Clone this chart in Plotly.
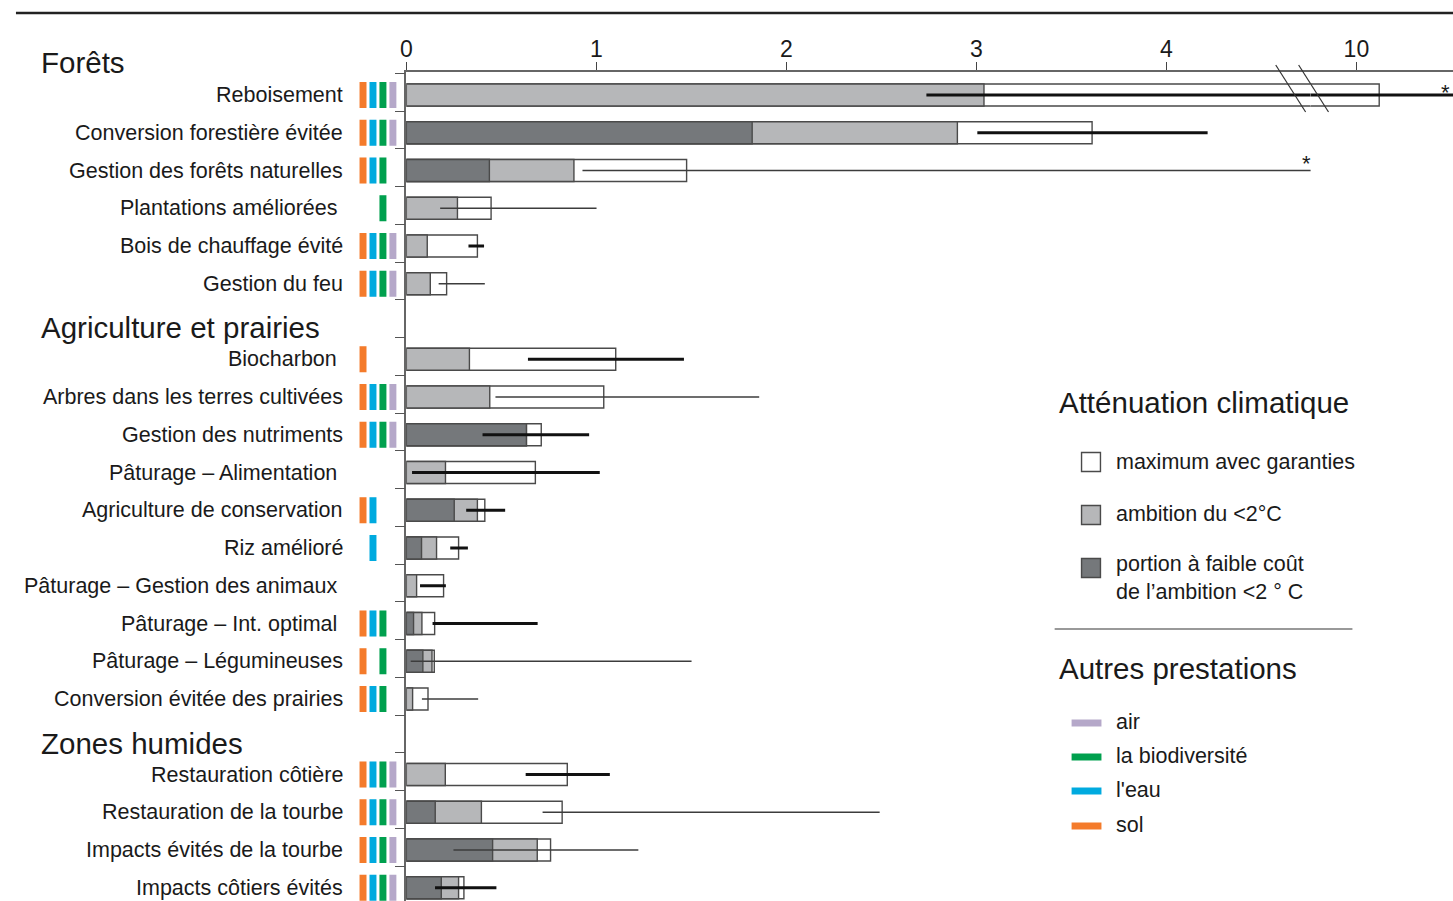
import plotly.graph_objects as go

# ---------------- data ----------------
groups = ["Forêts", "Agriculture et prairies", "Zones humides"]
group_sizes = [6, 10, 4]

pathways = [
    "Reboisement", "Conversion forestière évitée", "Gestion des forêts naturelles",
    "Plantations améliorées\u00a0", "Bois de chauffage évité", "Gestion du feu",
    "Biocharbon\u00a0", "Arbres dans les terres cultivées", "Gestion des nutriments",
    "Pâturage – Alimentation\u00a0", "Agriculture de conservation", "Riz amélioré",
    "Pâturage – Gestion des animaux\u00a0", "Pâturage – Int. optimal\u00a0",
    "Pâturage – Légumineuses", "Conversion évitée des prairies",
    "Restauration côtière", "Restauration de la tourbe",
    "Impacts évités de la tourbe", "Impacts côtiers évités",
]

low_cost = [0, 1.82, 0.437, 0, 0, 0,
            0, 0, 0.632, 0, 0.252, 0.080, 0, 0.038, 0.087, 0,
            0, 0.152, 0.454, 0.184]
ambition = [3.04, 2.90, 0.882, 0.269, 0.110, 0.126,
            0.332, 0.439, 0.632, 0.206, 0.374, 0.159, 0.054, 0.082, 0.135, 0.033,
            0.205, 0.395, 0.689, 0.275]
maximum = [10.12, 3.609, 1.475, 0.446, 0.374, 0.212,
           1.102, 1.039, 0.710, 0.679, 0.413, 0.275, 0.196, 0.149, 0.147, 0.114,
           0.847, 0.820, 0.759, 0.303]
range_low = [2.737, 3.005, 0.927, 0.178, 0.327, 0.170,
             0.640, 0.469, 0.401, 0.030, 0.315, 0.231, 0.072, 0.138, 0.023, 0.082,
             0.628, 0.717, 0.248, 0.151]
range_high = [11.0, 4.217, 4.77, 1.001, 0.409, 0.413,
              1.461, 1.857, 0.962, 1.018, 0.520, 0.324, 0.208, 0.691, 1.501, 0.378,
              1.071, 2.491, 1.221, 0.474]
range_bold = [1, 1, 0, 0, 1, 0,
              1, 0, 1, 1, 1, 1, 1, 1, 0, 0,
              1, 0, 0, 1]
off_scale = [1, 0, 1, 0, 0, 0,
             0, 0, 0, 0, 0, 0, 0, 0, 0, 0,
             0, 0, 0, 0]

# co-benefits
sol = [1, 1, 1, 0, 1, 1, 1, 1, 1, 0, 1, 0, 0, 1, 1, 1, 1, 1, 1, 1]
eau = [1, 1, 1, 0, 1, 1, 0, 1, 1, 0, 1, 1, 0, 1, 0, 1, 1, 1, 1, 1]
biodiv = [1, 1, 1, 1, 1, 1, 0, 1, 1, 0, 0, 0, 0, 1, 1, 1, 1, 1, 1, 1]
air = [1, 1, 0, 0, 1, 1, 0, 1, 1, 0, 0, 0, 0, 0, 0, 0, 1, 1, 1, 1]

x_ticks_left = [0, 1, 2, 3, 4]
x_ticks_right = [10]

# ---------------- layout helpers ----------------
W, H = 1453, 901
TOP, BOTTOM = 72, 0
FONT = "Liberation Sans, Arial, Helvetica, sans-serif"
TXT = "#1a1a1a"

C_DARK = "#75787b"
C_LIGHT = "#b6b7b9"
C_WHITE = "#ffffff"
C_OUT = "#4a4a4a"
C_SOL, C_EAU, C_BIO, C_AIR = "#f47b2b", "#00aadf", "#00a04e", "#b5a8c9"


def px2x(px):
    return px / W


def py2y(py):
    return 1 - (py - TOP) / (H - TOP - BOTTOM)


# row positions (heading rows inserted between groups)
rows = []
head_rows = []
r = 0
for gi, n in enumerate(group_sizes):
    if gi > 0:
        head_rows.append(r)
        r += 1
    for _ in range(n):
        rows.append(r)
        r += 1

fig = go.Figure()

BAR_W = 0.58
for vals, col in [(maximum, C_WHITE), (ambition, C_LIGHT), (low_cost, C_DARK)]:
    xs = [v if v > 0 else None for v in vals]
    for xa in ["x", "x2"]:
        fig.add_trace(go.Bar(
            x=xs, y=rows, orientation="h", base=0, width=BAR_W,
            marker=dict(color=col, line=dict(color=C_OUT, width=1.4)),
            xaxis=xa, yaxis="y", showlegend=False, hoverinfo="skip"))

# range whiskers
for bold, col, lw in [(0, "#3c3c3c", 1.5), (1, "#111111", 2.8)]:
    xs, ys = [], []
    for i in range(len(rows)):
        if range_bold[i] == bold:
            xs += [range_low[i], range_high[i], None]
            ys += [rows[i], rows[i], None]
    for xa in ["x", "x2"]:
        fig.add_trace(go.Scatter(
            x=xs, y=ys, mode="lines", line=dict(color=col, width=lw),
            xaxis=xa, yaxis="y", showlegend=False, hoverinfo="skip"))

# co-benefit strips
STRIP_H = 0.69
for slot, (flags, col) in enumerate([(sol, C_SOL), (eau, C_EAU), (biodiv, C_BIO), (air, C_AIR)]):
    rr = [rows[i] for i in range(len(rows)) if flags[i]]
    fig.add_trace(go.Bar(
        x=[slot] * len(rr), y=[STRIP_H] * len(rr), base=[v - STRIP_H / 2 for v in rr],
        orientation="v", width=0.7, marker=dict(color=col, line=dict(width=0)),
        xaxis="x3", yaxis="y", showlegend=False, hoverinfo="skip"))

annotations = []
# row labels
for i, name in enumerate(pathways):
    annotations.append(dict(
        x=px2x(340), xref="paper", xanchor="right", y=rows[i], yref="y", yanchor="middle",
        text=name, showarrow=False, font=dict(family=FONT, size=21.5, color=TXT)))
# group headings
head_py = [62] + [95 + 37.75 * (h + 0.17) for h in head_rows]
for g, yp in zip(groups, head_py):
    annotations.append(dict(
        x=px2x(33), xref="paper", xanchor="left", y=py2y(yp), yref="paper", yanchor="middle",
        text=g, showarrow=False, font=dict(family=FONT, size=29.5, color=TXT)))
# off-scale asterisks
for i in range(len(rows)):
    if off_scale[i]:
        if range_high[i] > 10:
            annotations.append(dict(x=10.47, xref="x2", y=rows[i], yref="y", yanchor="middle",
                                    yshift=3, text="*", showarrow=False,
                                    font=dict(family=FONT, size=22, color=TXT)))
        else:
            annotations.append(dict(x=range_high[i] - 0.03, xref="x", y=rows[i], yref="y",
                                    yanchor="middle", yshift=7, text="*", showarrow=False,
                                    font=dict(family=FONT, size=22, color=TXT)))

# legend
for label, yp in [("Atténuation climatique", 402), ("Autres prestations", 668)]:
    annotations.append(dict(x=px2x(1055), xref="paper", xanchor="left", y=py2y(yp),
                            yref="paper", yanchor="middle", text=label, showarrow=False,
                            font=dict(family=FONT, size=29.5, color=TXT)))
shapes = []
leg_boxes = [(C_WHITE, 462, 462, "maximum avec garanties"),
             (C_LIGHT, 515, 514, "ambition du <2°C"),
             (C_DARK, 568, 578, "portion à faible coût<br>de l’ambition <2 ° C")]
for col, yc, ytxt, label in leg_boxes:
    shapes.append(dict(type="rect", xref="paper", yref="paper",
                       x0=px2x(1080), x1=px2x(1099), y0=py2y(yc - 9.5), y1=py2y(yc + 9.5),
                       fillcolor=col, line=dict(color=C_OUT, width=1.4)))
    annotations.append(dict(x=px2x(1113), xref="paper", xanchor="left",
                            y=py2y(ytxt), yref="paper", yanchor="middle",
                            text=label, showarrow=False, align="left",
                            font=dict(family=FONT, size=21.5, color=TXT)))
shapes.append(dict(type="line", xref="paper", yref="paper", x0=px2x(1053), x1=px2x(1352),
                   y0=py2y(629), y1=py2y(629), line=dict(color="#999999", width=2)))
for col, yc, label in [(C_AIR, 723, "air"), (C_BIO, 757, "la biodiversité"),
                       (C_EAU, 791, "l'eau"), (C_SOL, 826, "sol")]:
    shapes.append(dict(type="line", xref="paper", yref="paper", x0=px2x(1070), x1=px2x(1100),
                       y0=py2y(yc), y1=py2y(yc), line=dict(color=col, width=7)))
    annotations.append(dict(x=px2x(1113), xref="paper", xanchor="left", y=py2y(yc - 1),
                            yref="paper", yanchor="middle", text=label, showarrow=False,
                            font=dict(family=FONT, size=21.5, color=TXT)))

# top rule and axis break marks
shapes.append(dict(type="line", xref="paper", yref="paper", x0=px2x(10), x1=1,
                   y0=py2y(13), y1=py2y(13), line=dict(color="#222222", width=2.6)))
for x0 in [1275, 1298]:
    shapes.append(dict(type="line", xref="paper", yref="paper", x0=px2x(x0), x1=px2x(x0 + 30),
                       y0=py2y(65), y1=py2y(112), line=dict(color="#333333", width=1.2)))

SPLIT = 1310
PPU = 190.8
axis_common = dict(side="top", showgrid=False, zeroline=False, showline=True,
                   linecolor="#666666", linewidth=1.5, ticks="outside", ticklen=8,
                   tickwidth=1.2, tickcolor="#444444", ticklabelstandoff=-4,
                   tickfont=dict(family=FONT, size=23, color=TXT), anchor="y")

fig.update_layout(
    width=W, height=H, margin=dict(l=0, r=0, t=TOP, b=BOTTOM),
    paper_bgcolor="white", plot_bgcolor="white",
    barmode="overlay", showlegend=False,
    xaxis=dict(domain=[px2x(402), px2x(SPLIT)], range=[0, (SPLIT - 402) / PPU],
               tickvals=x_ticks_left, **axis_common),
    xaxis2=dict(domain=[px2x(SPLIT), 1], range=[10 - (1356 - SPLIT) / PPU, 10 + (W - 1356) / PPU],
                tickvals=x_ticks_right, **axis_common),
    xaxis3=dict(domain=[px2x(353.5), px2x(393.5)], range=[-0.5, 3.5], visible=False,
                anchor="y", fixedrange=True),
    yaxis=dict(range=[(H - 95) / 37.75, (TOP - 95) / 37.75], anchor="x",
               showgrid=False, zeroline=False, showline=True, linecolor="#666666",
               linewidth=1.5, ticks="outside", ticklen=10, tickwidth=1.4,
               tickcolor="#555555", showticklabels=False,
               tickvals=[-0.575] + [k + 0.425 for k in range(21)]),
    annotations=annotations, shapes=shapes,
    hovermode=False,
)

fig.write_html("out.html", config=dict(displayModeBar=False),
               post_script="document.body.style.margin='0';document.body.style.overflow='hidden';")
